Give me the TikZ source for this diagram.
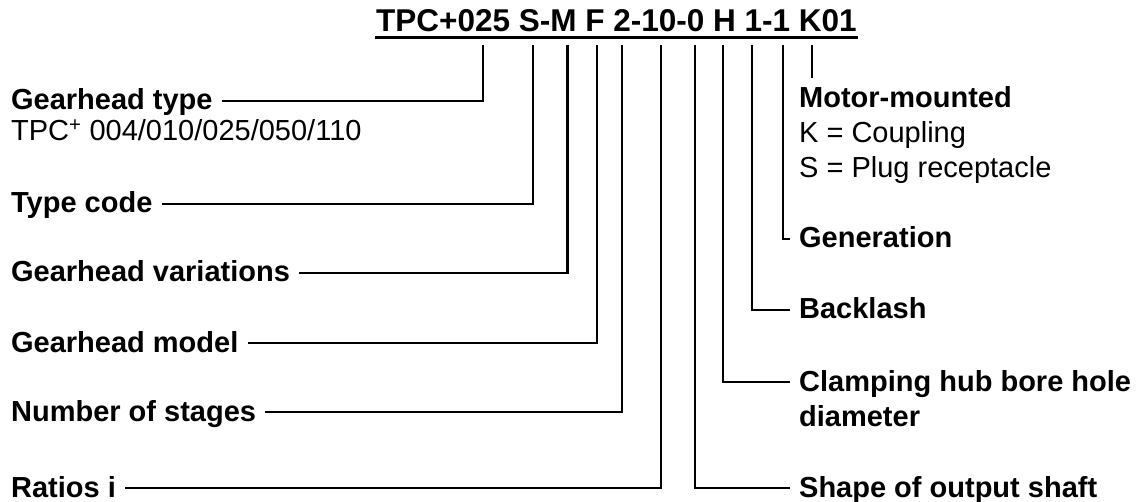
\documentclass[tikz,border=0pt]{standalone}
\usepackage{fontspec}
\setmainfont{Liberation Sans}
\begin{document}
\begin{tikzpicture}[x=1pt,y=-1pt,line width=2.3pt]
\tikzstyle{every node}=[font=\fontsize{29}{35}\selectfont]
\tikzstyle{part}=[anchor=west, inner xsep=8pt, inner ysep=0pt, text height=21pt, text depth=3pt, font=\fontsize{29}{35}\selectfont\bfseries]
\tikzstyle{info}=[anchor=west, inner xsep=8pt, inner ysep=0pt, text height=21pt, text depth=3pt]

\useasboundingbox (0,0) rectangle (1142,502);

\node[anchor=base, inner sep=0pt, font=\fontsize{31.5}{38}\selectfont\bfseries] (code) at (616.5,32) {TPC+025 S-M F 2-10-0 H 1-1 K01};
\draw ([yshift=-5.5pt]code.base west) -- ([yshift=-5.5pt]code.base east);

\coordinate (cgt) at (483,  45);
\coordinate (ctc) at (533,  45);
\coordinate (cgv) at (567.5,45);
\coordinate (cgm) at (597,  45);
\coordinate (cns) at (622,  45);
\coordinate (cri) at (661,  45);
\coordinate (cso) at (695,  45);
\coordinate (cch) at (723,  45);
\coordinate (cbl) at (752,  45);
\coordinate (cge) at (783,  45);
\coordinate (cmm) at (812,  45);
\coordinate (cmb) at (812,  78);

\node[part] (ngt)  at (  2,101) {Gearhead type};
\node[info] (ngtv) at (  2,132) {TPC\textsuperscript{+} 004/010/025/050/110};
\node[part] (ntc)  at (  2,204) {Type code};
\node[part] (ngv)  at (  2,273) {Gearhead variations};
\node[part] (ngm)  at (  2,343) {Gearhead model};
\node[part] (nns)  at (  2,412) {Number of stages};
\node[part] (nri)  at (  2,488) {Ratios i};

\node[part] (nmm)  at (790, 99) {Motor-mounted};
\node[info] (nmk)  at (790,134) {K = Coupling};
\node[info] (nms)  at (790,169) {S = Plug receptacle};
\node[part] (nge)  at (790,239) {Generation};
\node[part] (nbl)  at (790,310) {Backlash};
\node[part] (nch)  at (790,382) {Clamping hub bore hole};
\node[part] (nchd) at (790,417) {diameter};
\node[part] (nso)  at (790,488) {Shape of output shaft};

\draw (ngt.east) -| (cgt);
\draw (ntc.east) -| (ctc);
\draw (ngv.east) -| (cgv);
\draw (ngm.east) -| (cgm);
\draw (nns.east) -| (cns);
\draw (nri.east) -| (cri);
\draw (nso.west) -| (cso);
\draw (nch.west) -| (cch);
\draw (nbl.west) -| (cbl);
\draw (nge.west) -| (cge);
\draw (cmb) -- (cmm);
\end{tikzpicture}
\end{document}
